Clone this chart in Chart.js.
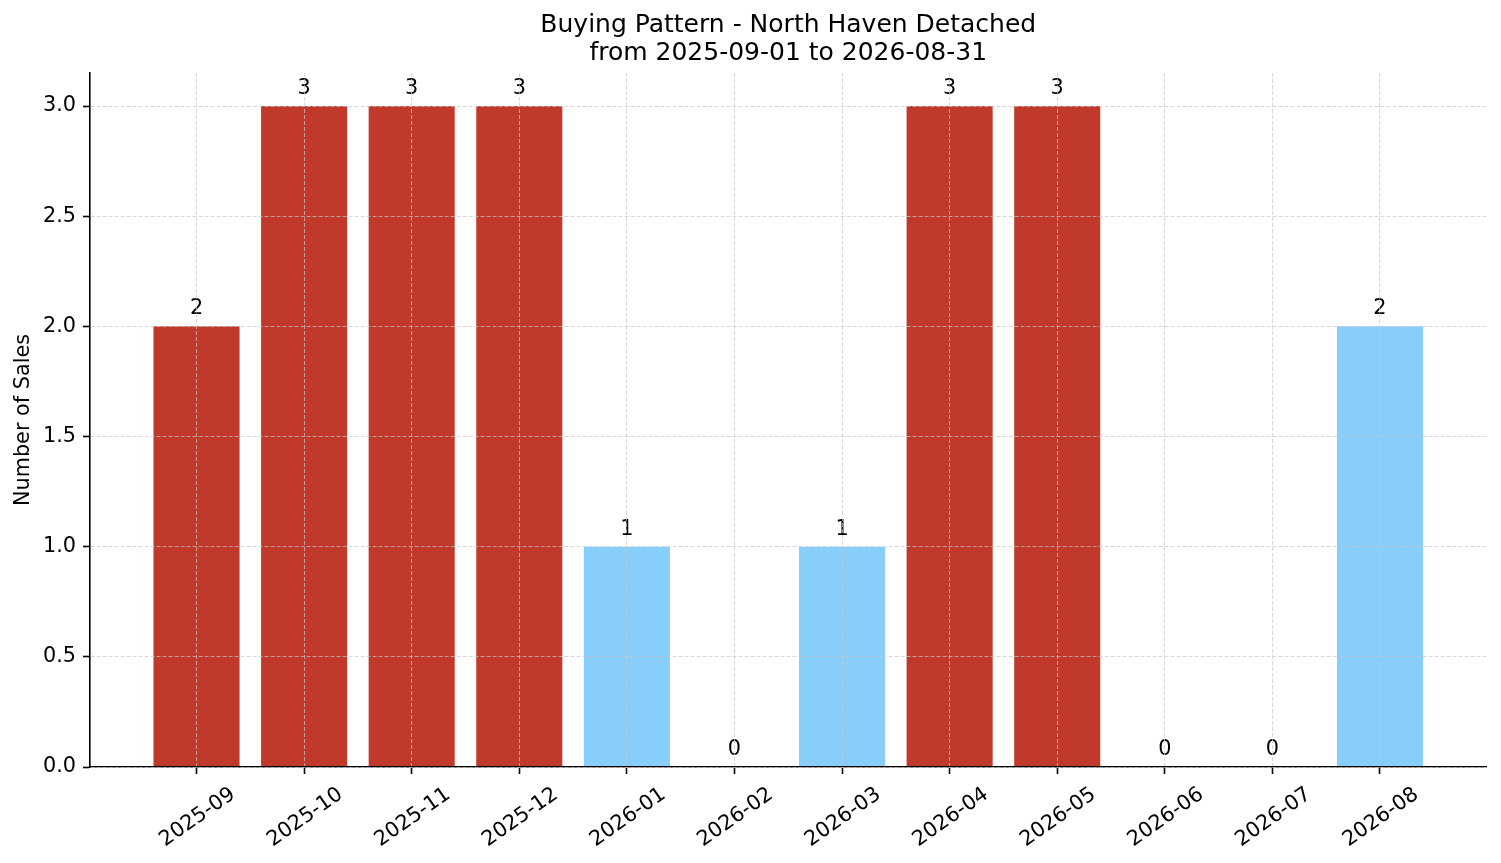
<!DOCTYPE html>
<html>
<head>
<meta charset="utf-8">
<script src="https://cdn.jsdelivr.net/npm/chart.js@4.4.1/dist/chart.umd.min.js"></script>
<style>
  html, body { margin: 0; padding: 0; background: #fff; }
  #wrap { width: 1501px; height: 863px; position: relative; }
</style>
</head>
<body>
<div id="wrap"><canvas id="c"></canvas></div>
<script>
const categories = ['2025-09','2025-10','2025-11','2025-12','2026-01','2026-02','2026-03','2026-04','2026-05','2026-06','2026-07','2026-08'];
const sales = [2, 3, 3, 3, 1, 0, 1, 3, 3, 0, 0, 2];
const barColors = ['#c0392b','#c0392b','#c0392b','#c0392b','#87cefa','#87cefa','#87cefa','#c0392b','#c0392b','#87cefa','#87cefa','#87cefa'];
const yTicks = [0, 0.5, 1.0, 1.5, 2.0, 2.5, 3.0];
const titleLines = ['Buying Pattern - North Haven Detached', 'from 2025-09-01 to 2026-08-31'];
const yTitle = 'Number of Sales';

const FONT = "'DejaVu Sans', 'Liberation Sans', sans-serif";
const FS = 20.8;
const GRID = 'rgba(200,200,200,0.7)';

const valueLabels = {
  id: 'valueLabels',
  afterDatasetsDraw(chart) {
    const ctx = chart.ctx;
    const meta = chart.getDatasetMeta(0);
    ctx.save();
    ctx.font = FS + 'px ' + FONT;
    ctx.fillStyle = '#000';
    ctx.textAlign = 'center';
    ctx.textBaseline = 'alphabetic';
    meta.data.forEach((el, i) => {
      ctx.fillText(String(sales[i]), el.x, el.y - 12);
    });
    ctx.restore();
  }
};

const xLabels = {
  id: 'xLabels',
  afterDraw(chart) {
    const ctx = chart.ctx;
    const xs = chart.scales.x;
    const ang = 35 * Math.PI / 180;
    ctx.save();
    ctx.font = FS + 'px ' + FONT;
    ctx.fillStyle = '#000';
    ctx.textAlign = 'center';
    ctx.textBaseline = 'alphabetic';
    const top = chart.chartArea.bottom + 7 + 7;
    const h = FS * 1.164;
    categories.forEach((lab, i) => {
      const w = ctx.measureText(lab).width;
      const bh = w * Math.sin(ang) + h * Math.cos(ang);
      const cx = xs.getPixelForValue(i);
      const cy = top + bh / 2;
      ctx.save();
      ctx.translate(cx, cy);
      ctx.rotate(-ang);
      ctx.fillText(lab, 0, FS * 0.346);
      ctx.restore();
    });
    ctx.restore();
  }
};

new Chart(document.getElementById('c'), {
  type: 'bar',
  data: {
    datasets: [{
      data: sales.map((v, i) => ({ x: i, y: v })),
      backgroundColor: barColors,
      borderWidth: 0,
      barPercentage: 0.8,
      categoryPercentage: 1.0
    }]
  },
  options: {
    responsive: true,
    maintainAspectRatio: false,
    animation: false,
    layout: { padding: { left: 0, right: 14.5, top: 0, bottom: 0 } },
    plugins: {
      legend: { display: false },
      tooltip: { enabled: false },
      title: {
        display: true,
        fullSize: false,
        text: titleLines,
        color: '#000',
        font: { family: FONT, size: 25, weight: 'normal', lineHeight: 1.12 },
        padding: { top: 11, bottom: 6 }
      }
    },
    scales: {
      x: {
        type: 'linear',
        min: -0.99,
        max: 11.99,
        offset: false,
        afterBuildTicks(scale) { scale.ticks = categories.map((c, i) => ({ value: i })); },
        afterFit(scale) { scale.height = 96; },
        ticks: { display: false, includeBounds: false },
        grid: { offset: false, color: GRID, lineWidth: 1, z: 1, drawTicks: true, tickLength: 7, tickColor: '#000', tickWidth: 1.6 },
        border: { display: true, color: '#000', width: 1.6, dash: [4, 2], z: 1 }
      },
      y: {
        type: 'linear',
        min: 0,
        max: 3.15,
        afterBuildTicks(scale) { scale.ticks = yTicks.map(v => ({ value: v })); },
        afterFit(scale) { scale.width = 90; },
        ticks: {
          includeBounds: false,
          color: '#000',
          padding: 7,
          font: { family: FONT, size: FS },
          callback: v => Number(v).toFixed(1)
        },
        grid: { offset: false, color: GRID, lineWidth: 1, z: 1, drawTicks: true, tickLength: 7, tickColor: '#000', tickWidth: 1.6 },
        border: { display: true, color: '#000', width: 1.6, dash: [4, 2], z: 1 },
        title: {
          display: true,
          text: yTitle,
          color: '#000',
          font: { family: FONT, size: FS, weight: 'normal', lineHeight: 1.2 },
          padding: { top: 11.5, bottom: 0 }
        }
      }
    }
  },
  plugins: [valueLabels, xLabels]
});
</script>
</body>
</html>
